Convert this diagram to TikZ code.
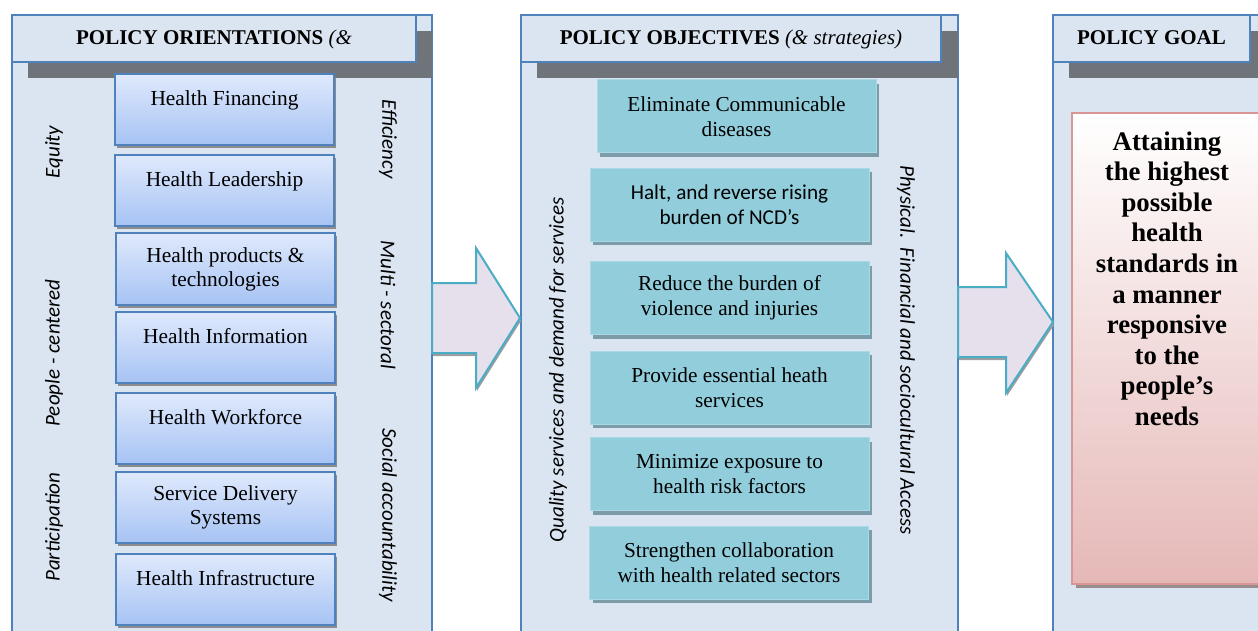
\documentclass[tikz,border=0pt]{standalone}
\usepackage{fontspec}
\setmainfont{Liberation Serif}
\newfontfamily\calibri{Carlito}
\usetikzlibrary{shadows,calc}
\definecolor{panelfill}{HTML}{DBE5F1}
\definecolor{panelblue}{HTML}{4F81BD}
\definecolor{barshade}{HTML}{6F737A}
\definecolor{boxtop}{HTML}{DFE9FC}
\definecolor{boxbot}{HTML}{A6C3F4}
\definecolor{boxshade}{HTML}{8C8C8C}
\definecolor{objfill}{HTML}{92CDDC}
\definecolor{objline}{HTML}{A9D9E5}
\definecolor{objshade}{HTML}{7D9CAA}
\definecolor{arrfill}{HTML}{E5E0EC}
\definecolor{arrline}{HTML}{4BACC6}
\definecolor{arrshade}{HTML}{9E9E9E}
\definecolor{goaltop}{HTML}{FFFFFF}
\definecolor{goalbot}{HTML}{E5B8B7}
\definecolor{goalline}{HTML}{D99694}
\definecolor{goalshade}{HTML}{9A8B8D}
\begin{document}
\begin{tikzpicture}[x=0.5pt,y=-0.5pt,
  panel/.style={fill=panelfill, draw=panelblue, line width=1pt},
  titlebox/.style={panel, inner sep=0pt, minimum height=23.5pt, text height=7.3pt, text depth=1pt,
    font=\fontsize{10.5}{12.6}\selectfont},
  pbox/.style={draw=panelblue, line width=1pt, top color=boxtop, bottom color=boxbot,
    minimum width=109.5pt, minimum height=35.5pt, inner sep=0pt, align=center,
    font=\fontsize{10.7}{12}\selectfont,
    drop shadow={shadow xshift=1pt, shadow yshift=-1.5pt, fill=boxshade, opacity=1}},
  oneline/.style={text height=7.3pt, text depth=11.8pt},
  obox/.style={fill=objfill, draw=objline, line width=0.5pt, minimum width=139.5pt,
    minimum height=36.5pt, inner sep=0pt, align=center,
    font=\fontsize{10.65}{12.5}\selectfont,
    drop shadow={shadow xshift=1.5pt, shadow yshift=-2pt, fill=objshade, opacity=1}},
  side/.style={font=\calibri\itshape\fontsize{10.5}{12}\selectfont, inner sep=0pt},
  bigarrow/.style={fill=arrfill, draw=arrline, line width=1pt, line join=miter},
  arrowshadow/.style={fill=arrshade},
  goalbox/.style={draw=goalline, line width=1pt, top color=goaltop, bottom color=goalbot,
    minimum width=95pt, minimum height=235.5pt, inner sep=0pt,
    drop shadow={shadow xshift=2pt, shadow yshift=-2pt, fill=goalshade, opacity=1}},
]
\useasboundingbox (0,0) rectangle (1258,631);
\fill[white] (0,0) rectangle (1258,631);

% ---------- Panel 1 ----------
\draw[panel] (12,15) rectangle (432,660);
\fill[barshade] (28,31) rectangle (432,78);
\node[titlebox, minimum width=202pt] (t1) at (214,38.5) {\textbf{POLICY ORIENTATIONS} \textit{(\&}};

\node[pbox, oneline] (hf) at (224.5,109.5) {Health Financing};
\node[pbox, oneline] (hl) at (224.5,190.5) {Health Leadership};
\node[pbox, minimum height=36pt] (hp) at (225.5,269) {Health products \&\\technologies};
\node[pbox, oneline] (hi) at (225.5,347.5) {Health Information};
\node[pbox, oneline] (hw) at (225.5,428.5) {Health Workforce};
\node[pbox] (sd) at (225.5,507.5) {Service Delivery\\Systems};
\node[pbox, oneline] (hinf) at (225.5,589.5) {Health Infrastructure};

\node[side, rotate=90] (eq) at (54,152) {Equity};
\node[side, rotate=90] (pc) at (54,353) {People - centered};
\node[side, rotate=90] (pa) at (54,527) {Participation};
\node[side, rotate=-90] (ef) at (388,139) {Efficiency};
\node[side, rotate=-90] (ms) at (388,305) {Multi - sectoral};
\node[side, rotate=-90] (sa) at (388,515) {Social accountability};

% ---------- Panel 2 ----------
\draw[panel] (521,15) rectangle (958,660);
\fill[barshade] (537,31) rectangle (958,78);
\node[titlebox, minimum width=210pt] (t2) at (731,38.5) {\textbf{POLICY OBJECTIVES} \textit{(\& strategies)}};

\node[obox] (o1) at (736.5,116.5) {Eliminate Communicable\\diseases};
\node[obox, font=\calibri\fontsize{10.6}{12.5}\selectfont] (o2) at (729.5,204.5) {Halt, and reverse rising\\burden of NCD’s};
\node[obox] (o3) at (729.5,298) {Reduce the burden of\\violence and injuries};
\node[obox] (o4) at (729.5,387.5) {Provide essential heath\\services};
\node[obox] (o5) at (729.5,474) {Minimize exposure to\\health risk factors};
\node[obox] (o6) at (729,562.5) {Strengthen collaboration\\with health related sectors};

\node[side, rotate=90] (qs) at (558,370) {Quality services and demand for services};
\node[side, rotate=-90] (pf) at (906,350) {Physical.\ \ Financial and sociocultural Access};

% ---------- Panel 3 ----------
\draw[panel] (1053,15) rectangle (1300,660);
\fill[barshade] (1069,31) rectangle (1300,78);
\node[titlebox, minimum width=98.5pt] (t3) at (1151.5,38.5) {\textbf{POLICY GOAL}};

\node[goalbox] (goal) at (1167,348.5) {\parbox[c][235.5pt][t]{95pt}{\centering\fontsize{13.4}{15.3}\selectfont\bfseries
  \vspace*{9.25pt}Attaining\\the highest\\possible\\health\\standards in\\a manner\\responsive\\to the\\people’s\\needs}};

% ---------- Arrows ----------
\fill[arrowshadow] (433,286) -- (477,286) -- (477,251) -- (521,321) -- (477,391) -- (477,356) -- (433,356) -- cycle;
\draw[bigarrow] (432,283) -- (476,283) -- (476,248) -- (520,318) -- (476,388) -- (476,353) -- (432,353) -- cycle;
\fill[arrowshadow] (959,290) -- (1007,290) -- (1007,256) -- (1054,325) -- (1007,396) -- (1007,360) -- (959,360) -- cycle;
\draw[bigarrow] (958,287) -- (1006,287) -- (1006,253) -- (1053,322) -- (1006,393) -- (1006,357) -- (958,357) -- cycle;
\end{tikzpicture}
\end{document}
